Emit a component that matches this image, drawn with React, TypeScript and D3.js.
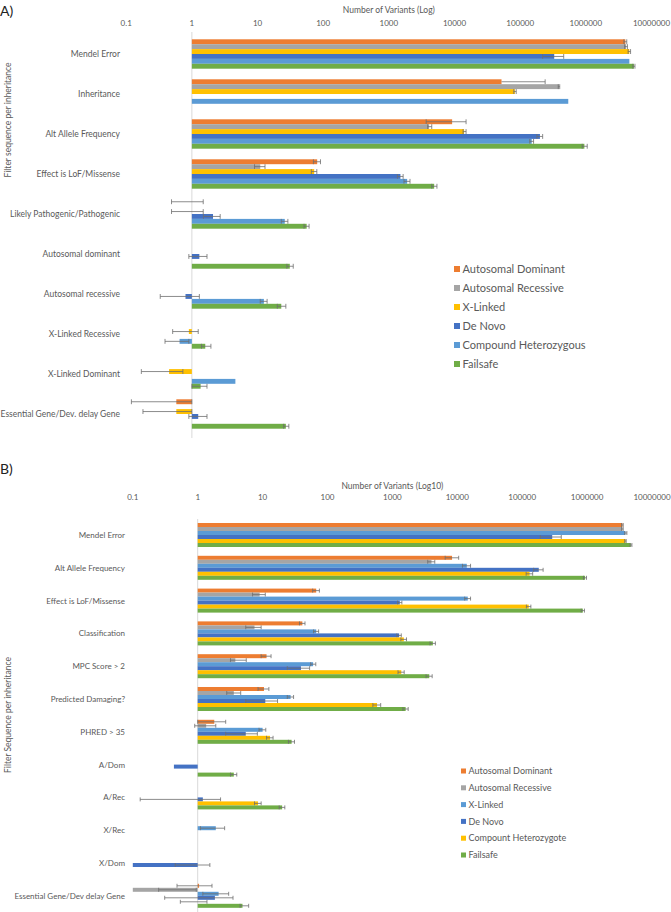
import React from "react";
import * as d3 from "d3";

// ---------- Panel A data ----------
const catsA = [
  "Mendel Error",
  "Inheritance",
  "Alt Allele Frequency",
  "Effect is LoF/Missense",
  "Likely Pathogenic/Pathogenic",
  "Autosomal dominant",
  "Autosomal recessive",
  "X-Linked Recessive",
  "X-Linked Dominant",
  "Essential Gene/Dev. delay Gene",
];
const seriesA = ["Autosomal Dominant", "Autosomal Recessive", "X-Linked", "De Novo", "Compound Heterozygous", "Failsafe"];
const colorsA = ["#ED7D31", "#A5A5A5", "#FFC000", "#4472C4", "#5B9BD5", "#70AD47"];

type V = number | null;
type E = [number | null, number | null] | null;

const aDom: V[] = [4.0e6, 5.2e4, 9.2e3, 81, 1, null, null, null, null, 0.58];
const aDomErr: E[] = [[3.8e6, 4.2e6], [null, 2.4e5], [3.7e3, 1.5e4], [71, 91], [0.49, 1.49], null, null, null, null, [0.12, 1.0]];
const aRec: V[] = [4.1e6, 3.9e5, 4.1e3, 11, null, null, null, null, null, null];
const aRecErr: E[] = [[3.9e6, 4.3e6], [3.8e5, 4.0e5], [3.9e3, 4.5e3], [9, 13], null, null, null, null, null, null];
const aXL: V[] = [4.6e6, 8.3e4, 1.4e4, 73, 1, null, null, 0.9, 0.45, 0.58];
const aXLErr: E[] = [[4.4e6, 4.8e6], [8.0e4, 8.7e4], [1.35e4, 1.5e4], [66, 80], [0.49, 1.49], null, null, [0.51, 1.25], [0.17, 0.73], [0.18, 1.0]];
const aDN: V[] = [3.3e5, null, 2.0e5, 1.5e3, 2.1, 1.3, 0.8, null, null, 1.25];
const aDNErr: E[] = [[2.2e5, 4.6e5], null, [1.8e5, 2.2e5], [1.35e3, 1.65e3], [1.5, 2.7], [0.9, 1.7], [0.33, 1.3], null, null, [0.9, 1.7]];
const aCH: V[] = [4.6e6, 5.4e5, 1.5e5, 1.9e3, 26, null, 12.5, 0.65, 4.6, null];
const aCHErr: E[] = [null, null, [1.4e5, 1.6e5], [1.7e3, 2.1e3], [23, 29], null, [11, 14], [0.39, 0.9], null, null];
const aFS: V[] = [5.4e6, null, 9.5e5, 4.9e3, 56, 31, 23, 1.6, 1.36, 27];
const aFSErr: E[] = [[5.2e6, 5.6e6], null, [8.8e5, 1.05e6], [4.5e3, 5.4e3], [51, 61], [28, 35], [20, 27], [1.4, 1.95], [1.0, 1.7], [25, 30]];

// ---------- Panel B data ----------
const catsB = [
  "Mendel Error",
  "Alt Allele Frequency",
  "Effect is LoF/Missense",
  "Classification",
  "MPC Score > 2",
  "Predicted Damaging?",
  "PHRED > 35",
  "A/Dom",
  "A/Rec",
  "X/Rec",
  "X/Dom",
  "Essential Gene/Dev delay Gene",
];
const seriesB = ["Autosomal Dominant", "Autosomal Recessive", "X-Linked", "De Novo", "Compount Heterozygote", "Failsafe"];
const colorsB = ["#ED7D31", "#A5A5A5", "#5B9BD5", "#4472C4", "#FFC000", "#70AD47"];

const bDom: V[] = [3.5e6, 8.3e3, 67, 41, 11.5, 10.5, 1.8, null, null, null, null, 1.05];
const bDomErr: E[] = [[3.4e6, 3.6e6], [6.5e3, 1.05e4], [59, 75], [37, 45], [9.5, 13.5], [8.5, 12.5], [1.0, 2.7], null, null, null, null, [0.48, 1.66]];
const bRec: V[] = [3.5e6, 4.0e3, 9, 7.5, 3.8, 3.6, 1.35, null, null, null, null, 0.1];
const bRecErr: E[] = [[3.4e6, 3.6e6], [3.5e3, 4.5e3], [7, 11], [5.5, 9.5], [3.2, 5.6], [2.8, 4.6], [0.9, 1.9], null, null, null, null, [0.25, 0.95]];
const bXL: V[] = [3.9e6, 1.4e4, 1.45e4, 67, 60, 27, 10, null, null, 1.9, null, 2.1];
const bXLErr: E[] = [[3.8e6, 4.1e6], [1.2e4, 1.6e4], [1.3e4, 1.6e4], [61, 73], [55, 66], [24, 30], [8.8, 11.2], null, null, [1.1, 2.6], null, [1.2, 3.0]];
const bDN: V[] = [2.9e5, 1.8e5, 1.3e3, 1.27e3, 39, 11, 5.5, 0.43, 1.2, null, 0.1, 1.84];
const bDNErr: E[] = [[1.9e5, 4.0e5], [1.5e5, 2.1e5], [1.2e3, 1.4e3], [1.17e3, 1.37e3], [24, 53], [5.5, 17], [2.7, 8.3], null, [0.13, 2.25], null, [0.45, 1.54], [0.31, 3.5]];
const bCH: V[] = [3.9e6, 1.3e5, 1.26e5, 1.5e3, 1.37e3, 580, 13, null, 8.5, null, null, 1];
const bCHErr: E[] = [[3.8e6, 4.0e6], [1.15e5, 1.45e5], [1.16e5, 1.36e5], [1.35e3, 1.65e3], [1.22e3, 1.52e3], [500, 660], [11.5, 14.5], null, [7.5, 9.5], null, null, [0.54, 1.39]];
const bFS: V[] = [4.7e6, 9.3e5, 8.6e5, 4.2e3, 3.7e3, 1.6e3, 28, 3.6, 20, null, null, 4.9];
const bFSErr: E[] = [[4.6e6, 4.9e6], [8.8e5, 9.8e5], [8.1e5, 9.1e5], [3.8e3, 4.6e3], [3.3e3, 4.1e3], [1.45e3, 1.75e3], [25, 31], [3.2, 4.0], [18, 22], null, null, [4.5, 6.1]];

const ticks = [0.1, 1, 10, 100, 1000, 10000, 100000, 1000000, 10000000];

const FONT = "Lato, 'Open Sans', sans-serif";
const TXT = "#595959";

type PanelProps = {
  cats: string[];
  series: string[];
  colors: string[];
  values: V[][];
  errors: E[][];
  xRange: [number, number];
  yRange: [number, number];
  pad: number;
  tickY: number;
  title: string;
  titleY: number;
  labelX: number;
  labelSize: number;
  yTitle: string;
  yTitleX: number;
  yTitleY: number;
  axisTop: number;
  axisBottom: number;
  legendX: number;
  legendY: number;
  legendStep: number;
  legendSize: number;
  legendSq: number;
};

function Panel(p: PanelProps) {
  const x = d3.scaleLog().domain([0.1, 1e7]).range(p.xRange);
  const y = d3.scaleBand<string>().domain(p.cats).range(p.yRange).paddingInner(p.pad).paddingOuter(p.pad / 2);
  const ys = d3.scaleBand<string>().domain(p.series).range([0, y.bandwidth()]);
  const bh = ys.bandwidth();
  const x1 = x(1);
  return (
    <g>
      <text x={(x(0.1) + x(1e7)) / 2} y={p.titleY} textAnchor="middle" fontSize={8.5} fill={TXT} fontFamily={FONT}>
        {p.title}
      </text>
      {ticks.map((t) => (
        <text key={t} x={x(t)} y={p.tickY} textAnchor="middle" fontSize={8} fill={TXT} fontFamily={FONT}>
          {String(t)}
        </text>
      ))}
      <line x1={x1} x2={x1} y1={p.axisTop} y2={p.axisBottom} stroke="#D9D9D9" strokeWidth={1} />
      {p.cats.map((c) => (
        <text key={c} x={p.labelX} y={(y(c) as number) + y.bandwidth() / 2 + 3} textAnchor="end" fontSize={p.labelSize} fill={TXT} fontFamily={FONT}>
          {c}
        </text>
      ))}
      <text
        transform={`translate(${p.yTitleX},${p.yTitleY}) rotate(-90)`}
        textAnchor="middle"
        fontSize={8.5}
        fill={TXT}
        fontFamily={FONT}
      >
        {p.yTitle}
      </text>
      {p.series.map((s, si) =>
        p.cats.map((c, ci) => {
          const v = p.values[si][ci];
          const by = (y(c) as number) + (ys(s) as number);
          const cy = by + bh / 2;
          const e = p.errors[si][ci];
          const els: React.ReactNode[] = [];
          if (v != null) {
            const xv = x(v);
            els.push(
              <rect key="r" x={Math.min(x1, xv)} y={by} width={Math.abs(xv - x1)} height={bh} fill={p.colors[si]} />
            );
          }
          if (e) {
            const base = v ?? 1;
            const lo = e[0] != null ? x(e[0]) : x(base);
            const hi = e[1] != null ? x(e[1]) : x(base);
            els.push(<line key="e" x1={lo} x2={hi} y1={cy} y2={cy} stroke="#6F6F6F" strokeWidth={0.8} />);
            if (e[0] != null)
              els.push(<line key="c0" x1={lo} x2={lo} y1={cy - bh / 2} y2={cy + bh / 2} stroke="#6F6F6F" strokeWidth={0.8} />);
            if (e[1] != null)
              els.push(<line key="c1" x1={hi} x2={hi} y1={cy - bh / 2} y2={cy + bh / 2} stroke="#6F6F6F" strokeWidth={0.8} />);
          }
          return <g key={s + c}>{els}</g>;
        })
      )}
      {p.series.map((s, i) => (
        <g key={s} transform={`translate(${p.legendX},${p.legendY + i * p.legendStep})`}>
          <rect x={0} y={-p.legendSq / 2} width={p.legendSq} height={p.legendSq} fill={p.colors[i]} />
          <text x={p.legendSq + 2.5} y={p.legendSize * 0.36} fontSize={p.legendSize} fill={TXT} fontFamily={FONT}>
            {s}
          </text>
        </g>
      ))}
    </g>
  );
}

export default function App() {
  return (
    <svg width={671} height={912} style={{ position: "absolute", left: 0, top: 0, background: "#fff" }}>
      <text x={0} y={16} fontSize={14} fill="#222" fontFamily={FONT}>A)</text>
      <text x={0} y={474} fontSize={14} fill="#222" fontFamily={FONT}>B)</text>
      <Panel
        cats={catsA}
        series={seriesA}
        colors={colorsA}
        values={[aDom, aRec, aXL, aDN, aCH, aFS]}
        errors={[aDomErr, aRecErr, aXLErr, aDNErr, aCHErr, aFSErr]}
        xRange={[126.2, 651.5]}
        yRange={[34, 434]}
        pad={0.265}
        tickY={26}
        title="Number of Variants (Log)"
        titleY={13}
        labelX={120}
        labelSize={8.5}
        yTitle="Filter sequence per inheritance"
        yTitleX={11}
        yTitleY={120}
        axisTop={32}
        axisBottom={438}
        legendX={454}
        legendY={269}
        legendStep={19}
        legendSize={11}
        legendSq={6}
      />
      <Panel
        cats={catsB}
        series={seriesB}
        colors={colorsB}
        values={[bDom, bRec, bXL, bDN, bCH, bFS]}
        errors={[bDomErr, bRecErr, bXLErr, bDNErr, bCHErr, bFSErr]}
        xRange={[132.8, 652]}
        yRange={[518.6, 912.2]}
        pad={0.268}
        tickY={500}
        title="Number of Variants (Log10)"
        titleY={489}
        labelX={125}
        labelSize={8}
        yTitle="Filter Sequence per inheritance"
        yTitleX={11}
        yTitleY={715}
        axisTop={519}
        axisBottom={912}
        legendX={461}
        legendY={771}
        legendStep={16.8}
        legendSize={9}
        legendSq={5}
      />
    </svg>
  );
}
